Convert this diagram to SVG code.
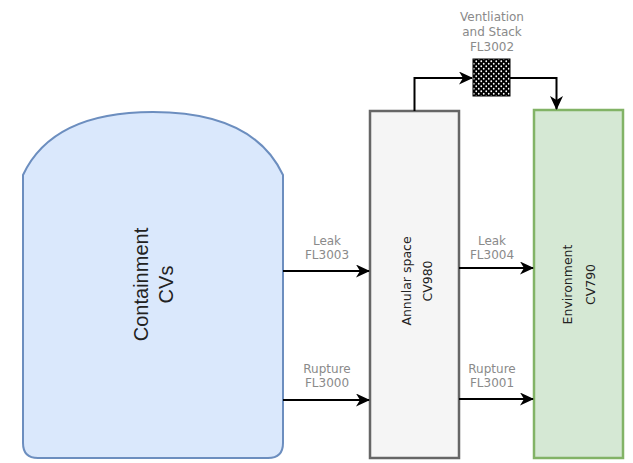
<svg xmlns="http://www.w3.org/2000/svg" width="633" height="463" viewBox="0 0 633 463">
  <style>
    .conn { fill: none; stroke: #000; stroke-width: 2; }
    .lbl { font-family: "DejaVu Sans", sans-serif; font-size: 12px; fill: #8a8a8a; text-anchor: middle; }
    .vt { font-family: "DejaVu Sans", sans-serif; font-size: 12.5px; fill: #222; text-anchor: middle; }
    .big { font-family: "Liberation Sans", Arial, sans-serif; font-size: 20px; fill: #222; text-anchor: middle; }
  </style>
  <defs>
    <marker id="arrow" markerUnits="userSpaceOnUse" markerWidth="15" markerHeight="14" refX="13" refY="6.5" orient="auto">
      <path d="M0,0 L14,6.5 L0,13 L4,6.5 Z" fill="#000"/>
    </marker>
    <pattern id="dots" patternUnits="userSpaceOnUse" width="5" height="5">
      <rect width="5" height="5" fill="#000"/>
      <circle cx="1.25" cy="1.25" r="0.9" fill="#fff"/>
      <circle cx="3.75" cy="3.75" r="0.9" fill="#fff"/>
    </pattern>
  </defs>
  <rect width="633" height="463" fill="#fff"/>

  <!-- containment volumes: domed vessel -->
  <g id="containment">
    <path d="M23,175 C45,128 95,112 153,112 C211,112 261,128 283,175 L283,443 Q283,458 268,458 L38,458 Q23,458 23,443 Z" fill="#dae8fc" stroke="#6c8ebf" stroke-width="2"/>
    <text class="big" transform="translate(148,284.5) rotate(-90)">Containment</text>
    <text class="big" transform="translate(173,284.5) rotate(-90)">CVs</text>
  </g>

  <!-- annular space -->
  <g id="annular">
    <rect x="370" y="111" width="89" height="347" fill="#f5f5f5" stroke="#666" stroke-width="2.5"/>
    <text class="vt" transform="translate(410.5,281) rotate(-90)">Annular space</text>
    <text class="vt" transform="translate(431.5,281) rotate(-90)">CV980</text>
  </g>

  <!-- environment -->
  <g id="environment">
    <rect x="534" y="110" width="89" height="348" fill="#d5e8d4" stroke="#82b366" stroke-width="2.5"/>
    <text class="vt" transform="translate(572,284.5) rotate(-90)">Environment</text>
    <text class="vt" transform="translate(595,284.5) rotate(-90)">CV790</text>
  </g>

  <!-- ventilation and stack flow path -->
  <g id="stack">
    <rect x="473" y="59" width="37" height="37" fill="url(#dots)" stroke="#000" stroke-width="1"/>
    <text class="lbl" x="492" y="21">Ventliation</text>
    <text class="lbl" x="492" y="36">and Stack</text>
    <text class="lbl" x="492" y="51">FL3002</text>
  </g>

  <!-- flow paths -->
  <g id="connectors">
    <path class="conn" d="M283,271 H369" marker-end="url(#arrow)"/>
    <path class="conn" d="M283,400 H369" marker-end="url(#arrow)"/>
    <path class="conn" d="M459,268 H533" marker-end="url(#arrow)"/>
    <path class="conn" d="M459,399 H533" marker-end="url(#arrow)"/>
    <path class="conn" d="M414.5,111 V78 H472" marker-end="url(#arrow)"/>
    <path class="conn" d="M510,78 H556.5 V109" marker-end="url(#arrow)"/>

    <text class="lbl" x="327" y="245">Leak</text>
    <text class="lbl" x="327" y="259">FL3003</text>
    <text class="lbl" x="327" y="373">Rupture</text>
    <text class="lbl" x="327" y="387">FL3000</text>
    <text class="lbl" x="492" y="245">Leak</text>
    <text class="lbl" x="492" y="259">FL3004</text>
    <text class="lbl" x="492" y="373">Rupture</text>
    <text class="lbl" x="492" y="387">FL3001</text>
  </g>
</svg>
